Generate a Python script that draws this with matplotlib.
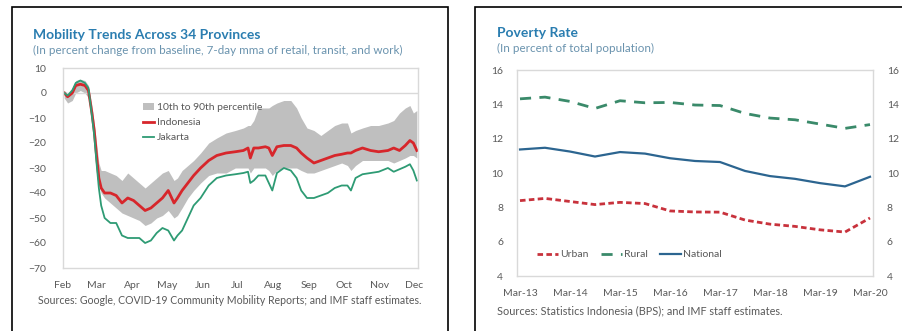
import matplotlib
matplotlib.use("Agg")
import matplotlib.pyplot as plt
import numpy as np
import pandas as pd
from matplotlib.patches import Rectangle

plt.rcParams['font.family'] = ['Lato', 'DejaVu Sans']

# --- left panel: mobility (7-day mma, % change from baseline) ---
mob_dates = ['2020-02-15', '2020-02-18', '2020-02-22', '2020-02-25', '2020-02-29', '2020-03-04',
             '2020-03-07', '2020-03-10', '2020-03-12', '2020-03-14', '2020-03-16', '2020-03-18',
             '2020-03-21', '2020-03-26', '2020-03-31', '2020-04-05', '2020-04-10', '2020-04-15',
             '2020-04-20', '2020-04-25', '2020-04-30', '2020-05-05', '2020-05-10', '2020-05-15',
             '2020-05-20', '2020-05-23', '2020-05-27', '2020-06-01', '2020-06-06', '2020-06-12',
             '2020-06-19', '2020-06-26', '2020-07-04', '2020-07-12', '2020-07-19', '2020-07-23',
             '2020-07-25', '2020-07-28', '2020-08-01', '2020-08-07', '2020-08-10', '2020-08-13',
             '2020-08-17', '2020-08-23', '2020-08-29', '2020-09-03', '2020-09-07', '2020-09-12',
             '2020-09-18', '2020-09-24', '2020-09-30', '2020-10-06', '2020-10-12', '2020-10-17',
             '2020-10-20', '2020-10-24', '2020-10-30', '2020-11-06', '2020-11-13', '2020-11-21',
             '2020-11-26', '2020-12-01', '2020-12-06', '2020-12-10', '2020-12-13', '2020-12-16']
indonesia = [0, -1.5, 0, 3, 3.5, 3, 1, -8, -15, -25, -34, -38,
             -40, -40, -41, -44, -42, -43, -45, -47, -46, -44, -42, -39,
             -44, -42, -39, -36, -33, -30, -27, -25, -24, -23.5, -23, -22,
             -26, -22, -22, -21.5, -22, -25, -21.5, -21, -21, -22, -24, -26,
             -28, -27, -26, -25, -24.5, -24, -24, -23, -22, -23, -23.5, -23,
             -22, -23, -21, -19, -20, -23]
jakarta = [0, -1, 1, 4, 5, 4, 2, -9, -17, -28, -38, -45,
           -50, -52, -52, -57, -58, -58, -58, -60, -59, -56, -54, -55,
           -59, -57, -55, -50, -45, -42, -37, -34, -33, -32.5, -32, -31.5,
           -36, -35, -33, -33, -36, -39, -32, -30, -31, -34, -39, -42,
           -42, -41, -40, -38, -37, -37, -39, -34, -32.5, -32, -31.5, -30,
           -31.5, -30.5, -29.5, -28.5, -31, -35]
pct10 = [-2, -4, -3, 0, 1, 0, -2, -12, -19, -29, -37, -40,
         -42, -44, -46, -48, -49, -50, -51, -53, -52, -50, -49, -47,
         -50, -49, -46, -42, -39, -36, -33, -32, -32, -30, -30, -30,
         -32, -30, -30, -30, -31, -33, -31, -30, -30, -30, -31, -32,
         -32, -31, -30, -29, -28, -29, -31, -29, -27, -27, -27, -27,
         -28, -27, -26, -25, -25, -26]
pct90 = [1, 0, 2, 5, 5.5, 5, 3, -5, -12, -20, -28, -31,
         -31, -32, -33, -35, -32, -34, -36, -38, -36, -34, -32, -31,
         -35, -34, -31, -29, -27, -24, -20, -18, -16, -15, -14, -13,
         -13, -11, -6, -6, -6, -5, -4, -3, -3, -6, -10, -14,
         -15, -17, -15, -13, -12, -12, -16, -15, -14, -13, -13, -12,
         -11, -8, -6, -5, -8, -7]
month_ticks = ['2020-02-14', '2020-03-14', '2020-04-14', '2020-05-14', '2020-06-14', '2020-07-14',
               '2020-08-14', '2020-09-14', '2020-10-14', '2020-11-14', '2020-12-14']
month_labels = ['Feb', 'Mar', 'Apr', 'May', 'Jun', 'Jul', 'Aug', 'Sep', 'Oct', 'Nov', 'Dec']

# --- right panel: poverty rate (semi-annual, % of population) ---
periods = ['Mar-13', 'Sep-13', 'Mar-14', 'Sep-14', 'Mar-15', 'Sep-15', 'Mar-16', 'Sep-16',
           'Mar-17', 'Sep-17', 'Mar-18', 'Sep-18', 'Mar-19', 'Sep-19', 'Mar-20']
urban = [8.39, 8.52, 8.34, 8.16, 8.29, 8.22, 7.79, 7.73, 7.72, 7.26, 7.02, 6.89, 6.69, 6.56, 7.38]
rural = [14.32, 14.42, 14.17, 13.76, 14.21, 14.09, 14.11, 13.96, 13.93, 13.47, 13.20, 13.10, 12.85, 12.60, 12.82]
national = [11.37, 11.47, 11.25, 10.96, 11.22, 11.13, 10.86, 10.70, 10.64, 10.12, 9.82, 9.66, 9.41, 9.22, 9.78]

W, H = 903, 331
TITLE_C = '#2A7DB0'
SUB_C = '#6A93AE'
TICK_C = '#595959'
SPINE_C = '#D9D9D9'


def px_axes(fig, x0, y0, x1, y1):
    return fig.add_axes([x0 / W, 1 - y1 / H, (x1 - x0) / W, (y1 - y0) / H])


def style(ax):
    for s in ax.spines.values():
        s.set_color(SPINE_C)
        s.set_linewidth(1.0)
    ax.tick_params(length=0, labelsize=7.5, colors=TICK_C)


fig = plt.figure(figsize=(W / 100, H / 100), dpi=100)

# panel frames
fig.add_artist(Rectangle((12 / W, -0.05), 436 / W, 1 - 7 / H + 0.05, transform=fig.transFigure,
                         fill=False, edgecolor='black', linewidth=1.2))
fig.add_artist(Rectangle((475 / W, -0.05), 0.5, 1 - 7 / H + 0.05, transform=fig.transFigure,
                         fill=False, edgecolor='black', linewidth=1.2))

# ---- left chart ----
d = pd.to_datetime(mob_dates)
ax1 = px_axes(fig, 63, 68, 418, 268)
ax1.fill_between(d, pct10, pct90, color='#BFBFBF', linewidth=0, label='10th to 90th percentile')
ax1.axhline(0, color=SPINE_C, linewidth=1.0, zorder=1)
ax1.plot(d, indonesia, color='#D7262B', linewidth=2.0, label='Indonesia')
ax1.plot(d, jakarta, color='#2E9B74', linewidth=1.3, label='Jakarta')
ax1.set_ylim(-70, 10)
ax1.set_yticks(np.arange(-70, 11, 10))
ax1.set_xlim(pd.Timestamp('2020-02-15'), pd.Timestamp('2020-12-17'))
ax1.set_xticks(pd.to_datetime(month_ticks))
ax1.set_xticklabels(month_labels)
style(ax1)
ax1.tick_params(axis='y', pad=12)
ax1.tick_params(axis='x', pad=9)
ax1.legend(loc='upper left', bbox_to_anchor=(0.215, 0.845), frameon=False, fontsize=7.5,
           handlelength=1.0, handletextpad=0.3, labelspacing=0.55, labelcolor=TICK_C,
           borderaxespad=0)

fig.text(33 / W, 1 - 35 / H, 'Mobility Trends Across 34 Provinces', fontsize=10, fontweight='bold',
         color=TITLE_C, va='center')
fig.text(33 / W, 1 - 50 / H,
         '(In percent change from baseline, 7-day mma of retail, transit, and work)',
         fontsize=8.4, color=SUB_C, va='center')
fig.text(38 / W, 1 - 300 / H,
         'Sources: Google, COVID-19 Community Mobility Reports; and IMF staff estimates.',
         fontsize=7.6, color=TICK_C, va='center')

# ---- right chart ----
xp = np.arange(len(periods))
ax2 = px_axes(fig, 517, 70, 873, 276)
ax2.plot(xp, urban, color='#C8323C', linewidth=2.0, dashes=(2, 1.2), label='Urban')
ax2.plot(xp, rural, color='#3A8A6A', linewidth=2.0, dashes=(4, 3), label='Rural')
ax2.plot(xp, national, color='#2C6590', linewidth=1.6, label='National')
ax2.set_ylim(4, 16)
ax2.set_yticks(np.arange(4, 17, 2))
ax2.set_xlim(-0.12, len(periods) - 1 + 0.12)
ax2.set_xticks(xp[::2])
ax2.set_xticklabels(periods[::2])
style(ax2)
ax2.tick_params(axis='y', labelright=True, pad=10)
ax2.tick_params(axis='x', pad=9)
ax2.legend(loc='lower left', bbox_to_anchor=(0.045, 0.06), ncol=3, frameon=False, fontsize=7.5,
           handlelength=2.0, handletextpad=0.2, columnspacing=1.2, labelcolor=TICK_C,
           borderaxespad=0)

fig.text(497 / W, 1 - 33 / H, 'Poverty Rate', fontsize=10, fontweight='bold',
         color=TITLE_C, va='center')
fig.text(497 / W, 1 - 48 / H, '(In percent of total population)', fontsize=8.4,
         color=SUB_C, va='center')
fig.text(497 / W, 1 - 311 / H, 'Sources: Statistics Indonesia (BPS); and IMF staff estimates.',
         fontsize=7.8, color=TICK_C, va='center')

fig.savefig('out.png', dpi=100)
